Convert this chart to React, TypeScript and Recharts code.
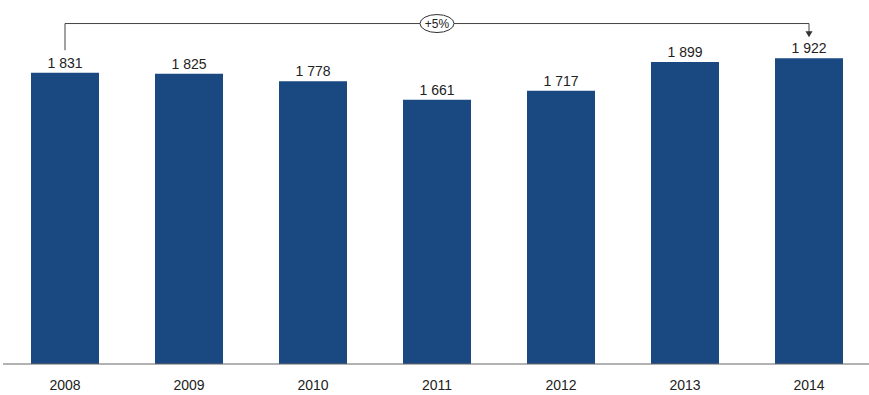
import React from 'react';
import { BarChart, Bar, XAxis, YAxis, LabelList, ReferenceLine, ReferenceDot } from 'recharts';

const years = ['2008', '2009', '2010', '2011', '2012', '2013', '2014'];
const values = [1831, 1825, 1778, 1661, 1717, 1899, 1922];
const growthLabel = '+5%';
const bracketY = 2140;
const bracketStartBottom = 1972;
const bracketEndBottom = 2085;

const data = years.map((y, i) => ({ year: y, value: values[i] }));

const fmt = (v: number) => {
  const s = String(v);
  return s.length > 3 ? s.slice(0, s.length - 3) + ' ' + s.slice(s.length - 3) : s;
};

const FONT = '"Liberation Sans", Arial, sans-serif';

const EllipseLabel = (props: any) => {
  const { cx, cy } = props;
  return (
    <g>
      <ellipse cx={cx} cy={cy} rx={17} ry={9} fill="#fff" stroke="#333" strokeWidth={1} />
      <text x={cx} y={cy} dy={4.5} textAnchor="middle" fontSize={12} fill="#222" fontFamily={FONT}>
        {growthLabel}
      </text>
    </g>
  );
};

const ArrowHead = (props: any) => {
  const { cx, cy } = props;
  return <path d={`M${cx - 3.5},${cy - 5} L${cx + 3.5},${cy - 5} L${cx},${cy + 1} Z`} fill="#333" />;
};

export default function App() {
  return (
    <div style={{ position: 'absolute', left: 0, top: 0, width: 869, height: 395, overflow: 'hidden', background: '#fff' }}>
      <BarChart
        width={880}
        height={395}
        data={data}
        margin={{ top: 14, right: 9, bottom: 0, left: 3 }}
        barCategoryGap={0}
      >
        <XAxis
          dataKey="year"
          height={31}
          tickLine={false}
          axisLine={{ stroke: '#666', strokeWidth: 1 }}
          tickMargin={10}
          tick={{ fontSize: 14, fill: '#222', fontFamily: FONT }}
          interval={0}
        />
        <YAxis hide domain={[0, 2200]} />
        <Bar dataKey="value" fill="#1a4880" barSize={68} isAnimationActive={false}>
          <LabelList
            dataKey="value"
            position="top"
            offset={5}
            formatter={(v: any) => fmt(Number(v))}
            style={{ fontSize: 14, fill: '#222', fontFamily: FONT }}
          />
        </Bar>
        <ReferenceLine
          segment={[{ x: years[0], y: bracketY }, { x: years[6], y: bracketY }]}
          stroke="#444"
          strokeWidth={1}
          ifOverflow="extendDomain"
        />
        <ReferenceLine
          segment={[{ x: years[0], y: bracketY }, { x: years[0], y: bracketStartBottom }]}
          stroke="#444"
          strokeWidth={1}
        />
        <ReferenceLine
          segment={[{ x: years[6], y: bracketY }, { x: years[6], y: bracketEndBottom }]}
          stroke="#444"
          strokeWidth={1}
        />
        <ReferenceDot x={years[6]} y={bracketEndBottom - 25} shape={ArrowHead} />
        <ReferenceDot x={years[3]} y={bracketY} shape={EllipseLabel} />
      </BarChart>
    </div>
  );
}
